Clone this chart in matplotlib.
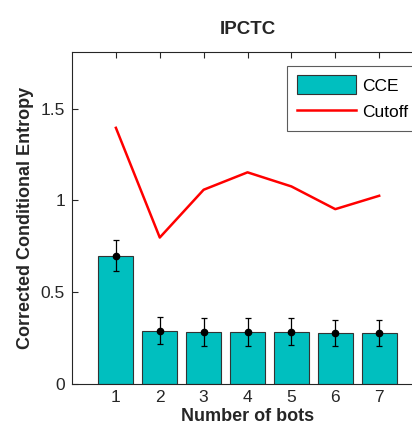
import matplotlib
matplotlib.use("Agg")
import matplotlib.pyplot as plt
import numpy as np

bots = [1, 2, 3, 4, 5, 6, 7]
cce = [0.697, 0.289, 0.283, 0.283, 0.283, 0.277, 0.277]
cce_err = [0.084, 0.074, 0.076, 0.076, 0.072, 0.072, 0.072]
cutoff = [1.396, 0.797, 1.058, 1.153, 1.076, 0.952, 1.025]
yticks = [0, 0.5, 1, 1.5]
yticklabels = ["0", "0.5", "1", "1.5"]

plt.rcParams['font.family'] = ['Liberation Sans', 'DejaVu Sans']
axc = '#262626'

fig = plt.figure(figsize=(4.12, 4.33), dpi=100)
ax = fig.add_axes([0.1748, 0.1143, 0.852, 0.7656])

bars = ax.bar(bots, cce, width=0.8, color='#00BFBF', edgecolor='#333333', linewidth=0.8, label='CCE', zorder=2)
ax.errorbar(bots, cce, yerr=cce_err, fmt='o', color='black', markersize=4.5, capsize=2.5, elinewidth=0.9, capthick=0.9, zorder=3)
line, = ax.plot(bots, cutoff, color='#FF0000', linewidth=1.8, label='Cutoff', zorder=4)

ax.set_xlim(0, 8)
ax.set_ylim(0, 1.81)
ax.set_xticks(bots)
ax.set_yticks(yticks)
ax.set_yticklabels(yticklabels)
ax.tick_params(direction='in', top=True, right=True, length=4, width=0.8, colors=axc, labelsize=12.5, pad=5)
for s in ax.spines.values():
    s.set_color(axc)
    s.set_linewidth(0.8)

ax.set_title('IPCTC', fontsize=13.5, fontweight='bold', color=axc, pad=13)
ax.set_xlabel('Number of bots', fontsize=13, fontweight='bold', color=axc, labelpad=2)
ax.set_ylabel('Corrected Conditional Entropy', fontsize=13, fontweight='bold', color=axc, labelpad=5)

leg = ax.legend(handles=[bars, line], labels=['CCE', 'Cutoff'], loc='upper left', bbox_to_anchor=(0.6125, 0.958),
                fontsize=12.5, frameon=True, fancybox=False, handlelength=3.4, handleheight=1.3,
                borderpad=0.55, labelspacing=0.45, handletextpad=0.4, borderaxespad=0)
leg.get_frame().set_edgecolor('#333333')
leg.get_frame().set_linewidth(0.8)

fig.savefig('out.png', dpi=100)
